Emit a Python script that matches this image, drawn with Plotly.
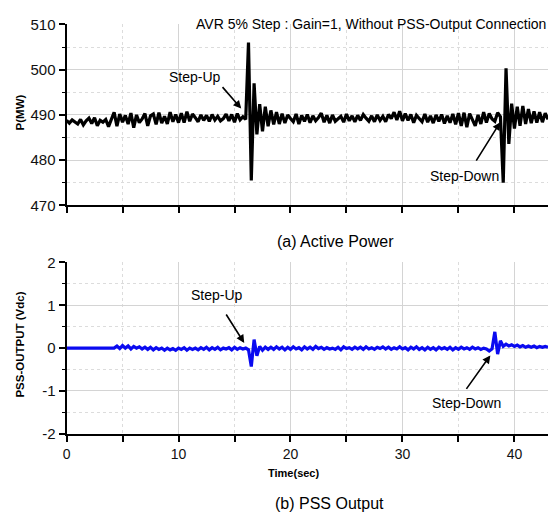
import numpy as np
import plotly.graph_objects as go

# Sample instants (s), 0.25 s apart
time_s = np.round(np.arange(0, 43.001, 0.25), 2)

# Generator active power P (MW)
p_mw = [
    # 0.00 - 4.00
    488.8, 488.2, 488.9, 488.4, 488.0, 489.0, 487.8, 488.7, 489.3, 488.1,
    489.4, 487.6, 488.8, 488.4, 489.0, 487.4, 488.9,
    # 4.25 - 10.00
    490.6, 487.5, 490.2, 488.4, 489.9, 488.0, 490.4, 487.2, 490.0, 488.3,
    489.1, 490.3, 487.6, 489.8, 490.2, 487.9, 490.5, 488.2, 489.7, 488.0,
    490.6, 488.5, 490.1, 488.3,
    # 10.25 - 16.00
    490.4, 488.3, 490.7, 488.6, 490.2, 489.4, 488.5, 490.0, 488.8, 489.9,
    488.6, 490.1, 488.9, 489.7, 488.7, 489.2, 490.2, 488.7, 490.1, 488.4,
    490.3, 488.9, 489.6, 489.0,
    # 16.25 - 19.00 (step-up)
    506.0, 475.5, 497.0, 485.7, 492.4, 486.4, 491.8, 487.5, 491.0, 487.9,
    490.6, 488.0,
    # 19.25 - 38.75
    490.3, 488.2, 490.0, 489.2, 488.5, 490.2, 488.0, 489.9,
    488.6, 490.1, 488.3, 489.8, 488.7, 489.4, 490.4, 488.4,
    489.9, 488.2, 490.0, 488.6, 489.1, 489.7, 488.4, 490.2,
    488.7, 489.8, 488.5, 489.9, 488.8, 490.1, 489.3, 488.6,
    489.8, 488.5, 490.0, 488.8, 489.7, 488.5, 490.1, 489.2,
    490.6, 488.9, 490.8, 488.7, 490.3, 488.8, 490.1, 488.3,
    489.9, 489.3, 488.5, 490.2, 488.4, 489.8, 488.2, 490.0,
    488.6, 490.1, 488.1, 489.8, 488.3, 490.2, 487.9, 490.4,
    487.6, 490.5, 487.3, 490.3, 488.8, 487.6, 490.0, 488.0,
    490.6, 488.3, 490.3, 489.1, 488.6, 490.5, 489.6,
    # 39.00 - 43.00 (step-down)
    475.0, 500.3, 483.6, 492.5, 487.0, 491.8, 487.6, 492.0, 488.0, 491.3,
    488.2, 490.8, 488.3, 490.6, 488.4, 490.4, 489.0,
]

# PSS output (Vdc)
pss_vdc = [
    # 0.00 - 4.25
    0.00, 0.00, 0.00, 0.00, 0.00, 0.00, 0.00, 0.00, 0.00, 0.00,
    0.00, 0.00, 0.00, 0.00, 0.00, 0.00, 0.00, 0.00,
    # 4.50 - 16.00
    0.05, -0.01, 0.06, 0.00, 0.05, -0.02, 0.04, 0.00,
    0.03, -0.02, 0.02, -0.03, 0.02, -0.04, 0.01, -0.03,
    0.00, -0.05, 0.00, -0.04, -0.01, -0.05, 0.00, -0.03,
    0.01, -0.05, 0.00, -0.03, 0.00, -0.04, 0.01, -0.03,
    0.02, -0.04, 0.01, -0.03, 0.02, -0.04, 0.00, -0.02,
    0.01, -0.04, 0.02, -0.03, 0.01, -0.02, 0.00,
    # 16.25 - 17.75 (step-up)
    -0.04, -0.43, 0.20, -0.18, 0.04, -0.05, 0.02,
    # 18.00 - 37.75
    -0.03, 0.02, -0.03, 0.03, -0.02, 0.02, -0.04, 0.02,
    -0.03, 0.03, -0.02, 0.01, -0.04, 0.03, -0.02, 0.02,
    -0.03, 0.04, -0.01, 0.02, -0.03, 0.01, -0.02, 0.00,
    -0.03, 0.02, -0.04, 0.03, -0.01, 0.01, -0.03, 0.02,
    -0.02, 0.02, -0.03, 0.03, -0.02, 0.01, -0.03, 0.02,
    -0.01, 0.03, -0.02, 0.02, -0.03, 0.01, -0.02, 0.03,
    -0.02, 0.01, -0.04, 0.02, -0.02, 0.03, -0.03, 0.01,
    -0.04, 0.02, -0.03, 0.01, -0.04, 0.02, -0.02, 0.01,
    -0.03, 0.02, -0.04, 0.01, -0.03, 0.02, -0.02, 0.01,
    -0.03, 0.02, -0.02, 0.01, -0.03, 0.00, -0.02, -0.07,
    # 38.00 - 43.00 (step-down)
    -0.02, 0.38, -0.14, 0.17, 0.04, 0.09, 0.05, 0.08, 0.04, 0.07,
    0.03, 0.06, 0.02, 0.05, 0.02, 0.05, 0.01, 0.04, 0.02, 0.04, 0.02,
]

assert len(p_mw) == len(time_s) == len(pss_vdc)

# Tick labels (plain hyphen minus signs)
p_ticks = [470, 480, 490, 500, 510]
pss_ticks = [-2, -1, 0, 1, 2]
pss_tick_text = ["-2", "-1", "0", "1", "2"]

FONT = "Liberation Sans, Arial, sans-serif"
W, H = 551, 523
GRID = "#d4d4d4"
MINOR_GRID = "#dcdcdc"

fig = go.Figure()
fig.add_trace(go.Scatter(x=time_s, y=p_mw, mode="lines",
                         line=dict(color="black", width=3.2),
                         xaxis="x", yaxis="y", showlegend=False))
fig.add_trace(go.Scatter(x=time_s, y=pss_vdc, mode="lines",
                         line=dict(color="#0a0af0", width=3.2),
                         xaxis="x2", yaxis="y2", showlegend=False))


def px_x(p):
    return p / W


def px_y(p):
    return 1 - p / H


x_dom = [px_x(63), px_x(548)]

x_common = dict(
    range=[0, 43], domain=x_dom, showline=True, linecolor="black", linewidth=2,
    ticks="outside", ticklen=6, tickwidth=1.5, tickcolor="black", dtick=10, tick0=0,
    showgrid=True, gridcolor=GRID, gridwidth=1, zeroline=False,
    minor=dict(dtick=5, ticks="outside", ticklen=6, tickwidth=1.5, tickcolor="black",
               showgrid=True, gridcolor=MINOR_GRID, griddash="dot", gridwidth=1),
    tickfont=dict(family=FONT, size=14, color="#111111"),
    fixedrange=True,
)

y_common = dict(
    showline=True, linecolor="black", linewidth=2,
    ticks="outside", ticklen=6, tickwidth=1.5, tickcolor="black",
    showgrid=True, gridcolor=GRID, gridwidth=1, zeroline=False,
    tickfont=dict(family=FONT, size=15, color="#111111"),
    fixedrange=True,
)

fig.update_layout(
    width=W, height=H,
    margin=dict(l=0, r=0, t=0, b=0),
    paper_bgcolor="white", plot_bgcolor="white",
    font=dict(family=FONT, color="black"),
    xaxis=dict(**x_common, anchor="y", showticklabels=False),
    yaxis=dict(**y_common, domain=[px_y(203), px_y(16)], range=[470, 510],
               tickmode="array", tickvals=p_ticks,
               minor=dict(dtick=5, ticks="outside", ticklen=3, tickwidth=1,
                          tickcolor="black", showgrid=True, gridcolor=MINOR_GRID,
                          griddash="dot")),
    xaxis2=dict(**x_common, anchor="y2", showticklabels=True),
    yaxis2=dict(**y_common, domain=[px_y(439), px_y(262)], range=[-2, 2],
                tickmode="array", tickvals=pss_ticks, ticktext=pss_tick_text,
                anchor="x2",
                minor=dict(dtick=0.5, ticks="outside", ticklen=3, tickwidth=1,
                           tickcolor="black", showgrid=True, gridcolor=MINOR_GRID,
                           griddash="dot")),
)

ann = []


def text_at(px, py, text, size=14, bold=False, angle=0, anchor="center"):
    ann.append(dict(
        x=px_x(px), y=px_y(py), xref="paper", yref="paper",
        text=f"<b>{text}</b>" if bold else text, showarrow=False,
        xanchor=anchor, yanchor="middle", textangle=angle,
        font=dict(family=FONT, size=size, color="black")))


text_at(548, 15, "AVR 5% Step : Gain=1, Without PSS-Output Connection",
        size=14, anchor="right")
text_at(334, 240, "(a) Active Power", size=16)
text_at(328, 511, "(b) PSS Output", size=16)
text_at(16, 107, "P(MW)", size=11.5, bold=True, angle=-90)
text_at(16, 347, "PSS-OUTPUT (Vdc)", size=11.5, bold=True, angle=-90)
text_at(292, 480, "Time(sec)", size=11, bold=True)


def event(xa, ya, label, lx, ly, head_x, head_y, ax, ay):
    ann.append(dict(x=lx, y=ly, xref=xa, yref=ya, text=label, showarrow=False,
                    xanchor="center", yanchor="middle",
                    font=dict(family=FONT, size=14, color="black")))
    ann.append(dict(x=head_x, y=head_y, xref=xa, yref=ya, text="",
                    showarrow=True, arrowhead=2, arrowsize=1, arrowwidth=1.6,
                    arrowcolor="black", ax=ax, ay=ay))


event("x", "y", "Step-Up", 11.45, 498.4, 15.6, 491.4, -20, -23)
event("x", "y", "Step-Down", 35.55, 476.6, 38.74, 488.4, -25, 40)
event("x2", "y2", "Step-Up", 13.4, 1.25, 15.87, 0.12, -19, -30)
event("x2", "y2", "Step-Down", 35.73, -1.28, 37.85, -0.17, -25, 35)

fig.update_layout(annotations=ann)

fig.write_html("out.html")
